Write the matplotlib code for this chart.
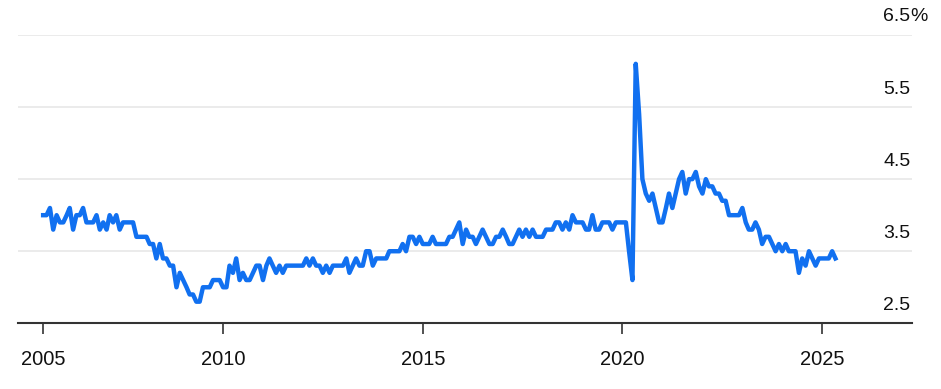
import pandas as pd
import matplotlib
matplotlib.use("Agg")
import matplotlib.pyplot as plt
import matplotlib.transforms as mtransforms

# monthly series, first point Jul 2005
start_month = "2005-07-01"
rate = [
    4.0, 4.0, 4.1, 3.8, 4.0, 3.9, 3.9, 4.0, 4.1, 3.8,
    4.0, 4.0, 4.1, 3.9, 3.9, 3.9, 4.0, 3.8, 3.9, 3.8,
    4.0, 3.9, 4.0, 3.8, 3.9, 3.9, 3.9, 3.9, 3.7, 3.7,
    3.7, 3.7, 3.6, 3.6, 3.4, 3.6, 3.4, 3.4, 3.3, 3.3,
    3.0, 3.2, 3.1, 3.0, 2.9, 2.9, 2.8, 2.8,
    3.0, 3.0, 3.0, 3.1, 3.1, 3.1, 3.0, 3.0, 3.3, 3.2,
    3.4, 3.1, 3.2, 3.1, 3.1, 3.2, 3.3, 3.3, 3.1, 3.3,
    3.4, 3.3, 3.2, 3.3, 3.2, 3.3, 3.3, 3.3, 3.3, 3.3,
    3.3, 3.4, 3.3, 3.4, 3.3, 3.3, 3.2, 3.3, 3.2, 3.3,
    3.3, 3.3, 3.3, 3.4, 3.2, 3.3, 3.4, 3.3, 3.3, 3.5,
    3.5, 3.3, 3.4, 3.4, 3.4, 3.4, 3.5, 3.5, 3.5, 3.5,
    3.6, 3.5, 3.7,
    3.7, 3.6, 3.7, 3.6, 3.6, 3.6, 3.7, 3.6, 3.6, 3.6,
    3.6, 3.7, 3.7, 3.8, 3.9, 3.6, 3.8, 3.7, 3.7, 3.6,
    3.7, 3.8, 3.7, 3.6, 3.6, 3.7, 3.7, 3.8, 3.7, 3.6,
    3.6, 3.7, 3.8, 3.7, 3.8, 3.7, 3.8, 3.7, 3.7, 3.7,
    3.8, 3.8, 3.8, 3.9, 3.9, 3.8, 3.9, 3.8, 4.0, 3.9,
    3.9, 3.9, 3.8, 3.8, 4.0, 3.8, 3.8, 3.9, 3.9, 3.9,
    3.8, 3.9,
    3.9, 3.9, 3.9, 3.5, 3.1, 6.1, 5.4, 4.5, 4.3, 4.2,
    4.3, 4.1, 3.9, 3.9, 4.1, 4.3, 4.1, 4.3, 4.5, 4.6,
    4.3, 4.5, 4.5, 4.6, 4.4, 4.3, 4.5, 4.4, 4.4, 4.3,
    4.3, 4.2, 4.2, 4.0, 4.0, 4.0, 4.0, 4.1, 3.9, 3.8,
    3.8, 3.9, 3.8, 3.6, 3.7, 3.7, 3.6, 3.5, 3.6, 3.5,
    3.6, 3.5, 3.5, 3.5, 3.2, 3.4, 3.3, 3.5, 3.4, 3.3,
    3.4, 3.4, 3.4, 3.4, 3.5, 3.4,
]

y_ticks = [2.5, 3.5, 4.5, 5.5, 6.5]
x_tick_dates = ["2005-07-01", "2010-01-01", "2015-01-01", "2020-01-01", "2025-01-01"]
x_tick_labels = ["2005", "2010", "2015", "2020", "2025"]

dates = pd.date_range(start_month, periods=len(rate), freq="MS")

plt.rcParams["font.family"] = ["Liberation Sans", "DejaVu Sans"]

W, H = 941, 389
fig = plt.figure(figsize=(W / 100, H / 100), dpi=100)
ax = fig.add_axes([18 / W, 1 - 323.3 / H, (912 - 18) / W, (323.3 - 35) / H])

for v in y_ticks[1:]:
    ax.axhline(v, color="#e8e8e8", lw=1.2, zorder=0)

ax.plot(dates, rate, color="#1170f0", lw=3.2, solid_joinstyle="round", zorder=3)

ax.set_xlim(pd.Timestamp("2004-11-13"), pd.Timestamp("2027-04-01"))
ax.set_ylim(2.5, 6.5)

for s in ["top", "left", "right"]:
    ax.spines[s].set_visible(False)
ax.spines["bottom"].set_color("#333333")
ax.spines["bottom"].set_linewidth(1.5)

ax.set_yticks([])
ax.set_xticks(pd.to_datetime(x_tick_dates))
ax.set_xticklabels(x_tick_labels)
ax.tick_params(axis="x", length=8, width=1.2, color="#333333", pad=11,
               labelsize=14.5, labelcolor="#111111")

# value labels sit above their gridlines, right aligned
lab_tr = mtransforms.offset_copy(ax.get_yaxis_transform(), fig=fig, x=-1, y=13, units="points")
for v in y_ticks:
    ax.text(1.0, v, f"{v:.1f}", transform=lab_tr, ha="right", va="center",
            fontsize=14, color="#111111")
ax.text(1.0, y_ticks[-1], "%", transform=lab_tr, ha="left", va="center",
        fontsize=14, color="#111111")

fig.savefig("out.png", dpi=100)
